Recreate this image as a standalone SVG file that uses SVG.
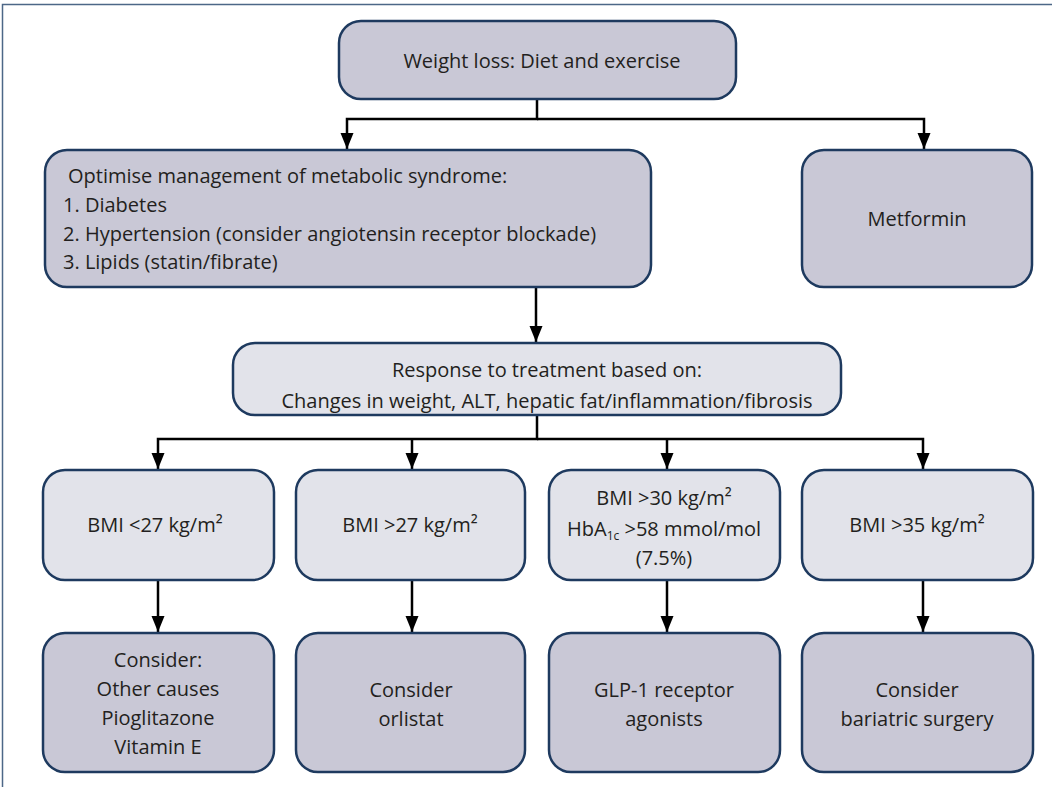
<svg xmlns="http://www.w3.org/2000/svg" width="1052" height="787" viewBox="0 0 1052 787">
<style>
.dark{fill:#c9c8d6;stroke:#1e3a5f;stroke-width:2.5}
.light{fill:#e2e3ea;stroke:#1e3a5f;stroke-width:2.5}
text{font-family:"Open Sans","Liberation Sans",sans-serif;font-size:20px;fill:#231f20}
.c{text-anchor:middle}
.conn{fill:none;stroke:#000;stroke-width:2.5}
</style>
<defs>
<marker id="ah" markerUnits="userSpaceOnUse" markerWidth="16" markerHeight="14" refX="16" refY="7" orient="auto">
<path d="M0,0.5 L16,7 L0,13.5 z" fill="#000"/>
</marker>
</defs>
<rect width="1052" height="787" fill="#fff"/>
<path d="M2.5,800 V4.5 H1052" fill="none" stroke="#4d6787" stroke-width="1.5"/>
<g id="connectors">
<path class="conn" d="M537,99 V119 H347 V149" marker-end="url(#ah)"/>
<path class="conn" d="M537,119 H924 V149" marker-end="url(#ah)"/>
<path class="conn" d="M536,287 V342" marker-end="url(#ah)"/>
<path class="conn" d="M537,415 V439 H158 V469" marker-end="url(#ah)"/>
<path class="conn" d="M412,439 V469" marker-end="url(#ah)"/>
<path class="conn" d="M537,439 H923 V469" marker-end="url(#ah)"/>
<path class="conn" d="M667,439 V469" marker-end="url(#ah)"/>
<path class="conn" d="M158,580 V632" marker-end="url(#ah)"/>
<path class="conn" d="M412,580 V632" marker-end="url(#ah)"/>
<path class="conn" d="M667,580 V632" marker-end="url(#ah)"/>
<path class="conn" d="M923,580 V632" marker-end="url(#ah)"/>
</g>
<g id="n-weightloss">
<rect class="dark" x="339" y="21" width="397" height="78" rx="22"/>
<text class="c" x="542" y="68">Weight loss: Diet and exercise</text>
</g>
<g id="n-optimise">
<rect class="dark" x="45" y="150" width="606" height="137" rx="22"/>
<text x="68" y="183">Optimise management of metabolic syndrome:</text>
<text x="63" y="212">1. Diabetes</text>
<text x="63" y="241">2. Hypertension (consider angiotensin receptor blockade)</text>
<text x="63" y="269">3. Lipids (statin/fibrate)</text>
</g>
<g id="n-metformin">
<rect class="dark" x="802" y="150" width="230" height="137" rx="22"/>
<text class="c" x="917" y="226">Metformin</text>
</g>
<g id="n-response">
<rect class="light" x="233" y="343" width="608" height="72" rx="22"/>
<text class="c" x="547" y="377">Response to treatment based on:</text>
<text class="c" x="547" y="408">Changes in weight, ALT, hepatic fat/inflammation/fibrosis</text>
</g>
<g id="n-bmi27lt">
<rect class="light" x="43" y="470" width="231" height="110" rx="22"/>
<text class="c" x="155" y="532">BMI &lt;27 kg/m²</text>
</g>
<g id="n-bmi27gt">
<rect class="light" x="296" y="470" width="229" height="110" rx="22"/>
<text class="c" x="410" y="532">BMI &gt;27 kg/m²</text>
</g>
<g id="n-bmi30">
<rect class="light" x="549" y="470" width="231" height="110" rx="22"/>
<text class="c" x="664" y="505">BMI &gt;30 kg/m²</text>
<text class="c" x="664" y="536">HbA<tspan font-size="12" dy="4">1c</tspan><tspan dy="-4"> &gt;58 mmol/mol</tspan></text>
<text class="c" x="664" y="565">(7.5%)</text>
</g>
<g id="n-bmi35">
<rect class="light" x="802" y="470" width="231" height="110" rx="22"/>
<text class="c" x="917" y="532">BMI &gt;35 kg/m²</text>
</g>
<g id="n-consider1">
<rect class="dark" x="43" y="633" width="231" height="139" rx="22"/>
<text class="c" x="158" y="667">Consider:</text>
<text class="c" x="158" y="696">Other causes</text>
<text class="c" x="158" y="725">Pioglitazone</text>
<text class="c" x="158" y="754">Vitamin E</text>
</g>
<g id="n-orlistat">
<rect class="dark" x="296" y="633" width="229" height="139" rx="22"/>
<text class="c" x="411" y="697">Consider</text>
<text class="c" x="411" y="726">orlistat</text>
</g>
<g id="n-glp1">
<rect class="dark" x="549" y="633" width="231" height="139" rx="22"/>
<text class="c" x="664" y="697">GLP-1 receptor</text>
<text class="c" x="664" y="726">agonists</text>
</g>
<g id="n-bariatric">
<rect class="dark" x="802" y="633" width="231" height="139" rx="22"/>
<text class="c" x="917" y="697">Consider</text>
<text class="c" x="917" y="726">bariatric surgery</text>
</g>
</svg>
